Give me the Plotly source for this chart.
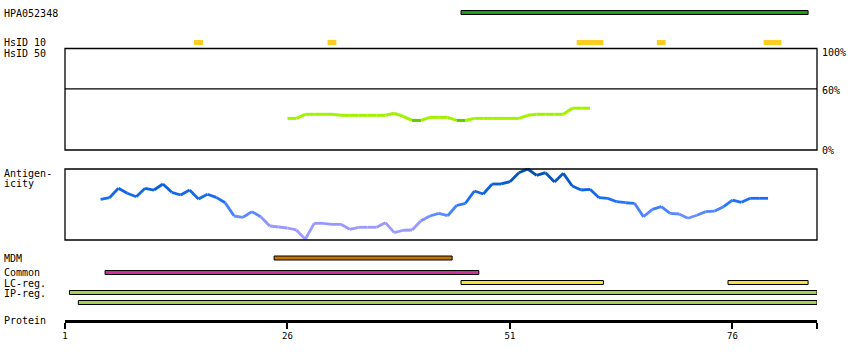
import plotly.graph_objects as go

# ---------------- data ----------------
protein_len = 85

# Antigenicity profile (scaled 0-100 within the box)
ag_pos = list(range(5, 81))
ag_val = [57.3, 59.6, 72.8, 65.8, 61.0, 72.8, 70.4, 78.9, 67.2, 63.4,
          70.4, 57.7, 64.4, 60.1, 52.5, 33.8, 32.0, 39.9, 32.8, 19.7,
          18.3, 16.9, 14.1, 1.0, 23.5, 23.5, 22.1, 22.1, 15.1, 17.9,
          17.9, 17.9, 24.4, 10.3, 13.7, 14.1, 27.2, 33.8, 37.6, 34.2,
          48.6, 51.7, 69.0, 64.8, 78.9, 78.9, 82.1, 94.8, 100.0, 91.1,
          94.8, 81.7, 93.9, 76.1, 70.4, 71.4, 59.6, 58.7, 53.9, 52.5,
          51.7, 32.8, 43.2, 46.9, 37.6, 36.6, 30.6, 34.8, 39.9, 40.8,
          46.9, 56.3, 53.1, 58.7, 58.7, 58.7]

# HsID 50 identity profile (%)
hs_pos = list(range(26, 61))
hs_val = [31, 31, 35, 35, 35, 35, 34, 34, 34, 34,
          34, 34, 36, 33, 29, 29, 32, 32, 32, 29,
          29, 31, 31, 31, 31, 31, 31, 34, 35, 35,
          35, 35, 41, 41, 41]

# Feature tracks (residue start / end)
hpa_start, hpa_end = [46], [84]
hsid10_start, hsid10_end = [16, 31, 59, 68, 80], [16, 31, 61, 68, 81]
mdm_start, mdm_end = [25], [44]
common_start, common_end = [6], [47]
lcreg_start, lcreg_end = [46, 76], [61, 84]
ipreg1_start, ipreg1_end = [2], [85]
ipreg2_start, ipreg2_end = [3], [85]

tick_vals = [1, 26, 51, 76]
tick_text = ["1", "26", "51", "76"]

# ---------------- styling ----------------
FONT = "DejaVu Sans Mono"
W, H = 850, 360
L_PX, R_PX = 65, 817
X0, X1 = 1, protein_len + 0.5


def px_to_paper_x(px):
    return (px - L_PX) / (R_PX - L_PX)


fig = go.Figure()


def add_bars(starts, ends, yc, width, color, outline=True):
    fig.add_trace(go.Bar(
        orientation="h",
        y=[yc] * len(starts),
        x=[e - s + 1 for s, e in zip(starts, ends)],
        base=[s - 0.5 for s in starts],
        width=width,
        marker=dict(color=color,
                    line=dict(color="black", width=1 if outline else 0)),
        xaxis="x", yaxis="y", hoverinfo="skip",
    ))


add_bars(hpa_start, hpa_end, 12.5, 4, "#1c9e12")
add_bars(hsid10_start, hsid10_end, 42.5, 5, "#ffcc22", outline=False)
add_bars(mdm_start, mdm_end, 258.0, 4, "#c27300")
add_bars(common_start, common_end, 272.5, 4, "#cc3399")
add_bars(lcreg_start, lcreg_end, 282.5, 4, "#f2e23c")
add_bars(ipreg1_start, ipreg1_end, 292.5, 4, "#a6cf58")
add_bars(ipreg2_start, ipreg2_end, 302.5, 4, "#a6cf58")


# Antigenicity coloured line (colour by value)
stops = [(0, (160, 160, 255)), (25, (150, 150, 255)), (35, (95, 140, 255)),
         (55, (30, 112, 248)), (75, (10, 98, 221)), (90, (6, 85, 184)),
         (100, (8, 74, 156))]


def colour_for(v):
    for (a, ca), (b, cb) in zip(stops[:-1], stops[1:]):
        if v <= b:
            t = (v - a) / (b - a) if b > a else 0
            c = [round(ca[i] + t * (cb[i] - ca[i])) for i in range(3)]
            return "rgb(%d,%d,%d)" % tuple(c)
    return "rgb(%d,%d,%d)" % stops[-1][1]


for i in range(len(ag_pos) - 1):
    mid = (ag_val[i] + ag_val[i + 1]) / 2
    fig.add_trace(go.Scatter(
        x=ag_pos[i:i + 2], y=ag_val[i:i + 2], mode="lines",
        line=dict(color=colour_for(mid), width=2.8),
        xaxis="x", yaxis="y3", hoverinfo="skip",
    ))

# HsID line
for i in range(len(hs_pos) - 1):
    mid = (hs_val[i] + hs_val[i + 1]) / 2
    col = "#66c800" if mid < 30 else "#a2f200"
    fig.add_trace(go.Scatter(
        x=hs_pos[i:i + 2], y=hs_val[i:i + 2], mode="lines",
        line=dict(color=col, width=3),
        xaxis="x", yaxis="y2", hoverinfo="skip",
    ))

shapes = [
    dict(type="rect", xref="paper", yref="y", x0=0, x1=1, y0=48.5, y1=150,
         line=dict(color="black", width=1.3), fillcolor="rgba(0,0,0,0)", layer="above"),
    dict(type="line", xref="paper", yref="y2", x0=0, x1=1, y0=60, y1=60,
         line=dict(color="black", width=1.3), layer="above"),
    dict(type="rect", xref="paper", yref="y", x0=0, x1=1, y0=169, y1=240,
         line=dict(color="black", width=1.3), fillcolor="rgba(0,0,0,0)", layer="above"),
]

ann = []


def label(text, px, py, anchor="left", size=10):
    ann.append(dict(text=text, xref="paper", yref="y", x=px_to_paper_x(px), y=py,
                    xanchor=anchor, yanchor="middle", showarrow=False,
                    font=dict(family=FONT, size=size, color="black")))


label("HPA052348", 2, 13)
label("HsID 10", 2, 42.5)
label("HsID 50", 2, 53)
label("Antigen-", 2, 173)
label("icity", 2, 183)
label("MDM", 2, 258.5)
label("Common", 2, 272.5)
label("LC-reg.", 2, 283)
label("IP-reg.", 2, 293)
label("Protein", 2, 320)
label("100%", 820, 52)
label("60%", 820, 90.5)
label("0%", 820, 150)

ag_lo = -(245 - 240) * 100 / 71
ag_hi = (240 - 160) * 100 / 71

fig.update_layout(
    width=W, height=H,
    margin=dict(l=L_PX, r=W - R_PX, t=0, b=0, pad=0),
    paper_bgcolor="white", plot_bgcolor="white",
    showlegend=False, barmode="overlay",
    shapes=shapes, annotations=ann,
    xaxis=dict(range=[X0, X1], domain=[0, 1], anchor="free",
               position=(H - 320.5) / H,
               showgrid=False, zeroline=False,
               showline=True, linecolor="black", linewidth=3,
               ticks="outside", ticklen=6, tickwidth=2, tickcolor="black",
               tickvals=tick_vals + [X1], ticktext=tick_text + [""],
               tickfont=dict(family=FONT, size=9, color="black"),
               fixedrange=True),
    yaxis=dict(range=[H, 0], domain=[0, 1], visible=False, fixedrange=True),
    yaxis2=dict(range=[0, 100], domain=[(H - 150) / H, (H - 48) / H],
                visible=False, fixedrange=True, anchor="x"),
    yaxis3=dict(range=[ag_lo, ag_hi], domain=[(H - 245) / H, (H - 160) / H],
                visible=False, fixedrange=True, anchor="x"),
)

fig.write_html(
    "out.html",
    config={"displayModeBar": False},
    post_script="document.body.style.margin='0';document.body.style.overflow='hidden';",
)
